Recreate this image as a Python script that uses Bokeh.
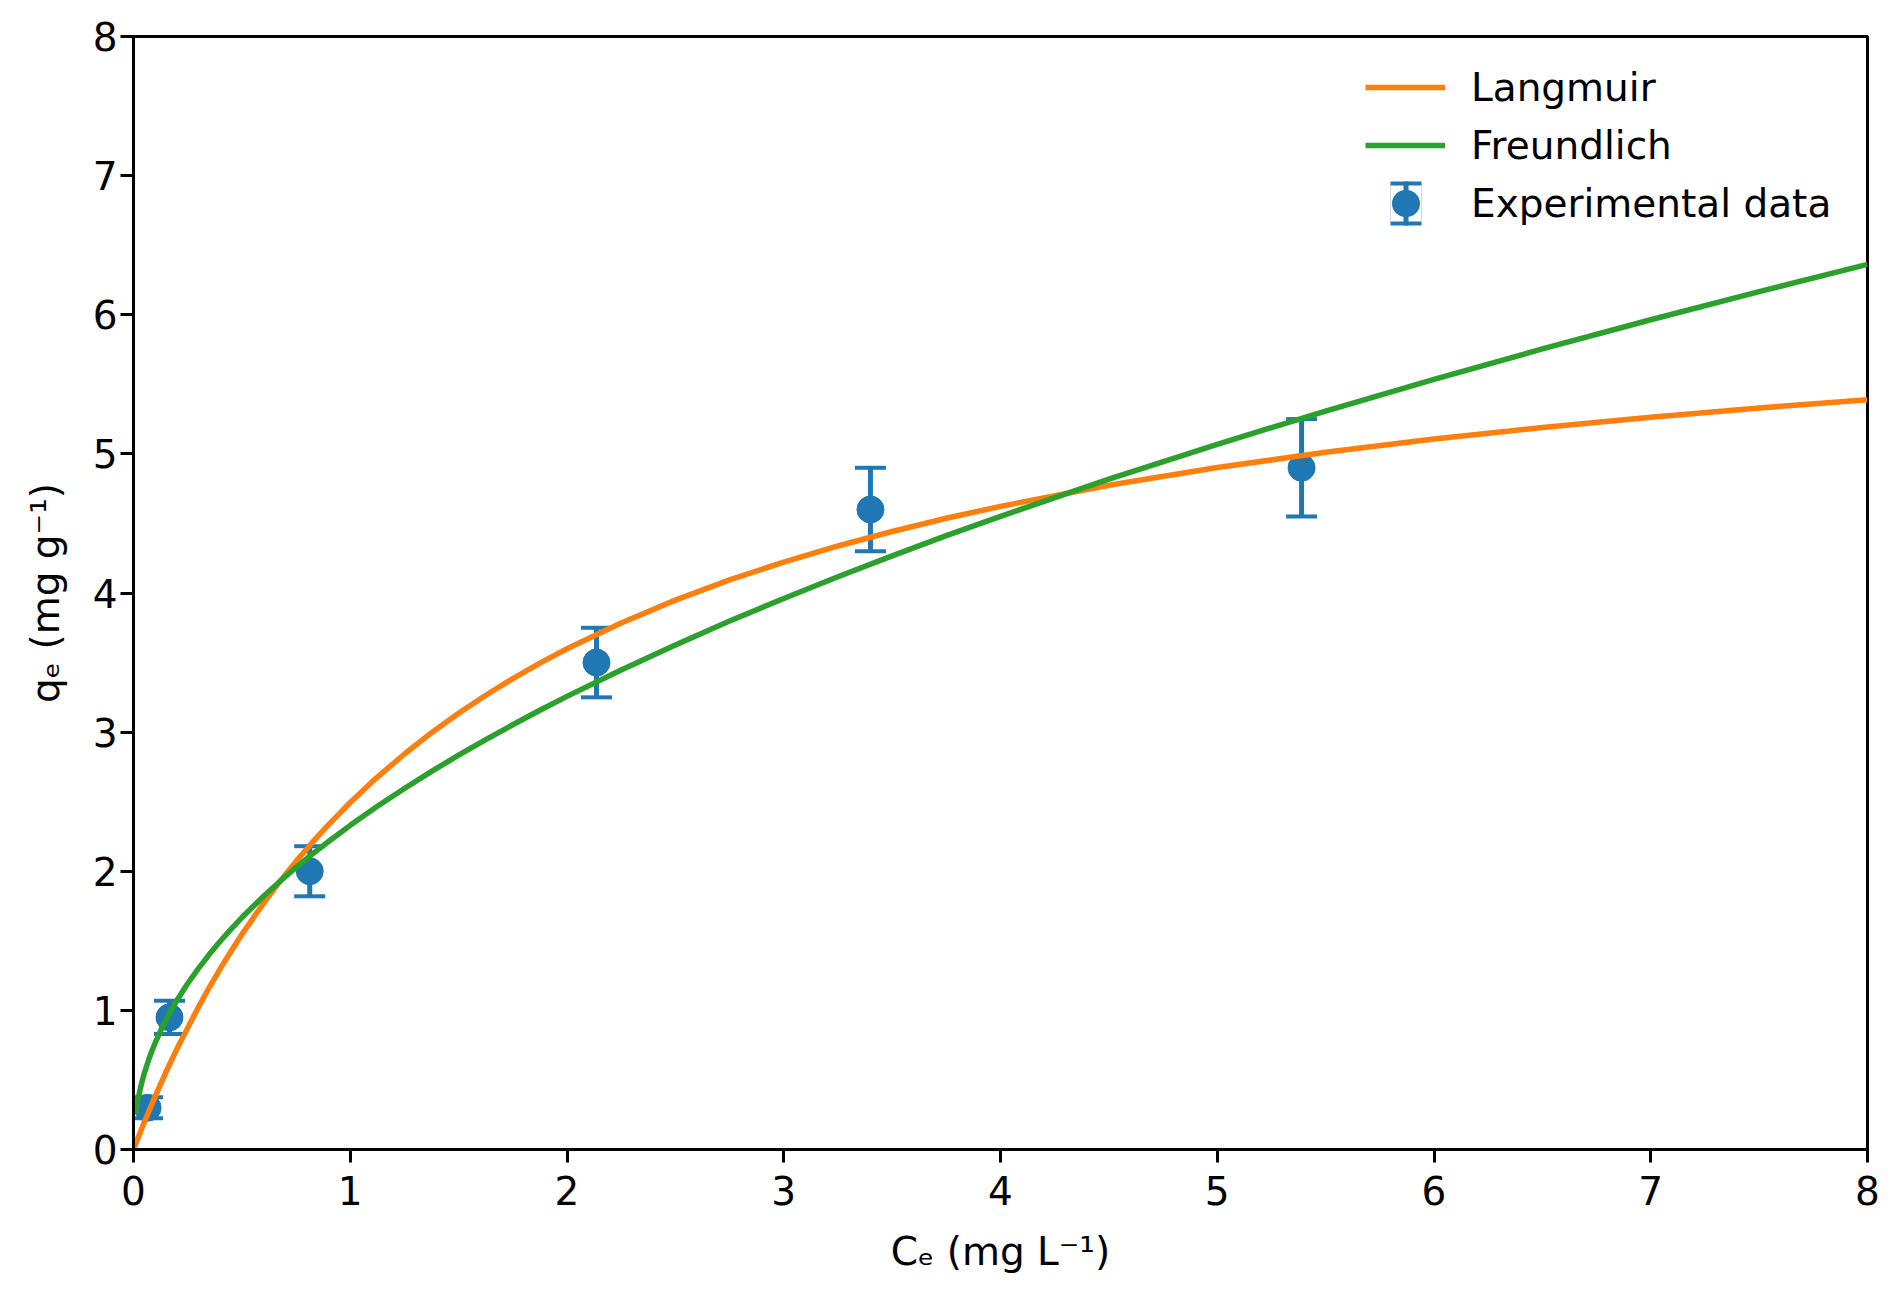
from bokeh.plotting import figure
from bokeh.models import (ColumnDataSource, Range1d, FixedTicker, Whisker, TeeHead,
                          Legend, LegendItem)
from bokeh.embed import file_html
from bokeh.resources import INLINE

# ---------------- data ----------------
exp_ce = [0.065, 0.166, 0.813, 2.136, 3.400, 5.389]
exp_qe = [0.30, 0.95, 2.00, 3.50, 4.60, 4.90]
exp_err = [0.075, 0.12, 0.18, 0.25, 0.30, 0.35]

langmuir_ce = [0, 0.05, 0.1, 0.15, 0.2, 0.3, 0.35, 0.4, 0.45, 0.5, 0.6, 0.675, 0.75,
               0.825, 0.9, 1.0, 1.1, 1.25, 1.375, 1.5, 1.625, 1.75, 1.875, 2.0, 2.25,
               2.5, 2.75, 3.0, 3.25, 3.5, 3.75, 4.0, 4.5, 5.0, 5.5, 6.0, 6.5, 7.0, 7.5,
               8.0]
langmuir_qe = [0, 0.197, 0.382, 0.557, 0.722, 1.025, 1.166, 1.299, 1.425, 1.546, 1.770,
               1.925, 2.071, 2.207, 2.335, 2.494, 2.642, 2.843, 2.996, 3.136, 3.265,
               3.385, 3.496, 3.599, 3.785, 3.949, 4.094, 4.222, 4.338, 4.442, 4.537,
               4.623, 4.774, 4.902, 5.011, 5.107, 5.190, 5.264, 5.330, 5.389]

freundlich_ce = [0.01, 0.015, 0.02, 0.03, 0.04, 0.05, 0.07, 0.085, 0.1, 0.125, 0.15,
                 0.175, 0.2, 0.25, 0.3, 0.35, 0.4, 0.45, 0.5, 0.6, 0.675, 0.75, 0.825,
                 0.9, 1.0, 1.125, 1.25, 1.375, 1.5, 1.625, 1.75, 1.875, 2.0, 2.25, 2.5,
                 2.75, 3.0, 3.25, 3.5, 3.75, 4.0, 4.5, 5.0, 5.5, 6.0, 6.5, 7.0, 7.5, 8.0]
freundlich_qe = [0.252, 0.306, 0.352, 0.428, 0.492, 0.548, 0.645, 0.709, 0.766, 0.853,
                 0.932, 1.004, 1.071, 1.193, 1.302, 1.403, 1.497, 1.584, 1.667, 1.820,
                 1.927, 2.028, 2.123, 2.214, 2.330, 2.467, 2.595, 2.718, 2.834, 2.946,
                 3.053, 3.157, 3.257, 3.447, 3.627, 3.798, 3.961, 4.117, 4.267, 4.412,
                 4.551, 4.818, 5.069, 5.308, 5.536, 5.754, 5.964, 6.166, 6.362]

x_ticks = [0, 1, 2, 3, 4, 5, 6, 7, 8]
y_ticks = [0, 1, 2, 3, 4, 5, 6, 7, 8]
x_label = "C\u2091 (mg L\u207b\u00b9)"
y_label = "q\u2091 (mg g\u207b\u00b9)"
series_labels = ["Langmuir", "Freundlich", "Experimental data"]

BLUE = "#1f77b4"
ORANGE = "#ff7f0e"
GREEN = "#2ca02c"
FONT = "DejaVu Sans"
FS = "39px"

# ---------------- figure ----------------
p = figure(frame_width=1734, frame_height=1113,
           min_border_left=133, min_border_right=20,
           min_border_top=36, min_border_bottom=130,
           x_range=Range1d(0, 8), y_range=Range1d(0, 8),
           output_backend="svg", toolbar_location=None)
p.background_fill_color = "white"
p.border_fill_color = "white"
p.grid.visible = False
p.outline_line_color = "black"
p.outline_line_width = 3

for ax, ticks, lab in ((p.xaxis[0], x_ticks, x_label), (p.yaxis[0], y_ticks, y_label)):
    ax.ticker = FixedTicker(ticks=ticks)
    ax.axis_label = lab
    ax.axis_label_text_font = FONT
    ax.axis_label_text_font_size = FS
    ax.axis_label_text_font_style = "normal"
    ax.axis_label_text_color = "black"
    ax.major_label_text_font = FONT
    ax.major_label_text_font_size = FS
    ax.major_label_text_color = "black"
    ax.axis_line_width = 3
    ax.axis_line_color = "black"
    ax.major_tick_line_width = 3
    ax.major_tick_line_color = "black"
    ax.major_tick_out = 13
    ax.major_tick_in = 0
    ax.minor_tick_out = 0
    ax.minor_tick_in = 0
p.xaxis.major_label_standoff = 13
p.yaxis.major_label_standoff = 3
p.xaxis.axis_label_standoff = 21
p.yaxis.axis_label_standoff = 22

# ---------------- experimental data ----------------
src = ColumnDataSource(dict(
    ce=exp_ce, qe=exp_qe,
    upper=[q + e for q, e in zip(exp_qe, exp_err)],
    lower=[q - e for q, e in zip(exp_qe, exp_err)],
))
whisker = Whisker(source=src, base="ce", upper="upper", lower="lower",
                  dimension="height", line_color=BLUE, line_width=5, level="underlay",
                  upper_head=TeeHead(size=31, line_color=BLUE, line_width=4),
                  lower_head=TeeHead(size=31, line_color=BLUE, line_width=4))
p.add_layout(whisker)
r_exp = p.scatter("ce", "qe", source=src, size=27, fill_color=BLUE, line_color=BLUE)

# ---------------- model curves ----------------
r_lang = p.line(langmuir_ce, langmuir_qe, line_color=ORANGE, line_width=5.5,
                line_join="round")
r_freu = p.line(freundlich_ce, freundlich_qe, line_color=GREEN, line_width=5.5,
                line_join="round")

# ------- legend: error-bar symbol built from legend-only line renderers -------
nan = float("nan")

def legend_only_line(**kw):
    return p.line(x=[nan], y=[nan], **kw)

lg_block = legend_only_line(line_color=BLUE, line_width=44, line_dash="0 25 31 2000")
lg_gap = legend_only_line(line_color="white", line_width=36, line_dash="0 25 31 2000")
lg_stem = legend_only_line(line_color=BLUE, line_width=44, line_dash="0 38 5 2000")
lg_dot = legend_only_line(line_color=BLUE, line_width=27, line_cap="round",
                          line_dash="1 2000", line_dash_offset=1961)

legend = Legend(items=[
    LegendItem(label=series_labels[0], renderers=[r_lang]),
    LegendItem(label=series_labels[1], renderers=[r_freu]),
    LegendItem(label=series_labels[2], renderers=[lg_block, lg_gap, lg_stem, lg_dot]),
], location=(1222, 907))
legend.glyph_width = 80
legend.glyph_height = 58
legend.spacing = 0
legend.padding = 10
legend.margin = 0
legend.label_standoff = 26
legend.label_text_font = FONT
legend.label_text_font_size = FS
legend.label_text_color = "black"
legend.background_fill_alpha = 0
legend.border_line_alpha = 0
p.add_layout(legend)

open("out.html", "w").write(file_html(p, INLINE))
